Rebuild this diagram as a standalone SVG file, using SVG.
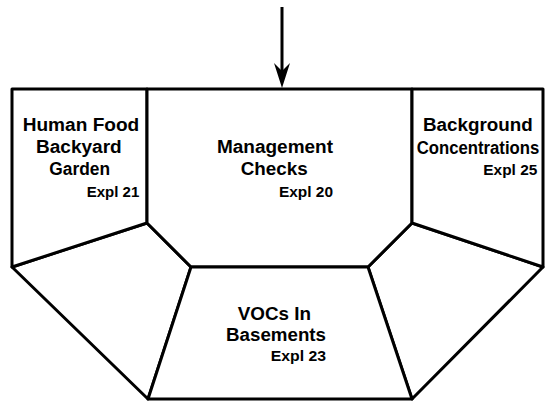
<svg xmlns="http://www.w3.org/2000/svg" width="552" height="402" viewBox="0 0 552 402">
<style>
.part{fill:#fff;stroke:#000;stroke-width:3;stroke-linejoin:round}
.t{font-family:"Liberation Sans",Arial,sans-serif;font-weight:bold;font-size:18px;fill:#000}
.e{font-family:"Liberation Sans",Arial,sans-serif;font-weight:bold;font-size:15px;fill:#000}
.conn{stroke:#000;stroke-width:3;fill:none}
</style>
<defs>
<marker id="ah" markerUnits="userSpaceOnUse" markerWidth="26" markerHeight="16" refX="17" refY="8" orient="auto" viewBox="0 0 26 16">
<path d="M25,8 L0,0 L8,8 L0,16 Z" fill="#000"/>
</marker>
</defs>
<rect width="552" height="402" fill="#fff"/>
<g id="lower-left">
<polygon class="part" points="12,267 147,223 191,267 148,399"/>
</g>
<g id="lower-right">
<polygon class="part" points="543,267 412,223 368,267 412,399"/>
</g>
<g id="human-food">
<polygon class="part" points="12,89 147,89 147,223 12,267"/>
<text class="t" x="22.7" y="131" textLength="116.6" lengthAdjust="spacingAndGlyphs">Human Food</text>
<text class="t" x="36" y="153" textLength="85.7" lengthAdjust="spacingAndGlyphs">Backyard</text>
<text class="t" x="49.3" y="175" textLength="60.7" lengthAdjust="spacingAndGlyphs">Garden</text>
<text class="e" x="86.7" y="196.5" textLength="52.6" lengthAdjust="spacingAndGlyphs">Expl 21</text>
</g>
<g id="management">
<polygon class="part" points="147,89 412,89 412,223 368,267 191,267 147,223"/>
<text class="t" x="217" y="153" textLength="116" lengthAdjust="spacingAndGlyphs">Management</text>
<text class="t" x="240.7" y="175" textLength="67" lengthAdjust="spacingAndGlyphs">Checks</text>
<text class="e" x="279" y="197" textLength="54" lengthAdjust="spacingAndGlyphs">Expl 20</text>
</g>
<g id="background">
<polygon class="part" points="412,89 543,89 543,267 412,223"/>
<text class="t" x="423" y="130.5" textLength="109.7" lengthAdjust="spacingAndGlyphs">Background</text>
<text class="t" x="416.7" y="153.5" textLength="122.6" lengthAdjust="spacingAndGlyphs">Concentrations</text>
<text class="e" x="483.3" y="175" textLength="54" lengthAdjust="spacingAndGlyphs">Expl 25</text>
</g>
<g id="vocs">
<polygon class="part" points="191,267 368,267 412,399 148,399"/>
<text class="t" x="237.7" y="319.5" textLength="73.3" lengthAdjust="spacingAndGlyphs">VOCs In</text>
<text class="t" x="226" y="340.5" textLength="100" lengthAdjust="spacingAndGlyphs">Basements</text>
<text class="e" x="270.7" y="361" textLength="55.3" lengthAdjust="spacingAndGlyphs">Expl 23</text>
</g>
<g id="connectors">
<path class="conn" d="M282,7 L282,80" marker-end="url(#ah)"/>
</g>
</svg>
